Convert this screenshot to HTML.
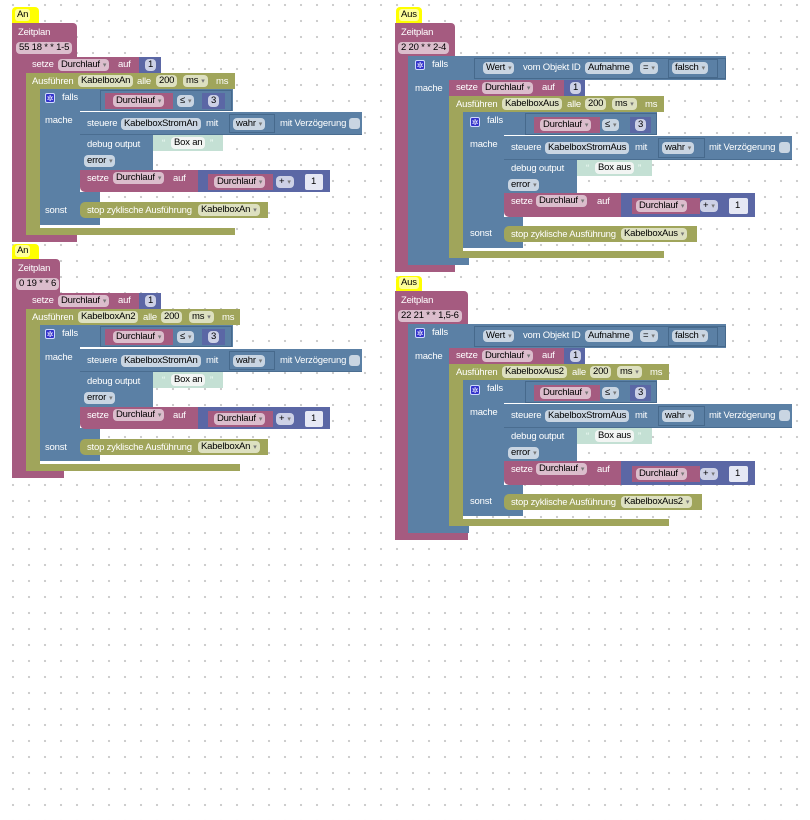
<!DOCTYPE html>
<html><head><meta charset="utf-8"><style>
html,body{margin:0;padding:0}
body{width:810px;height:552px;position:relative;overflow:hidden;background:#fff;
background-image:radial-gradient(circle,#c8c8c8 0.9px,transparent 1.3px);background-size:16px 16px;background-position:5px -3px;
font-family:"Liberation Sans",sans-serif;font-size:9.5px;letter-spacing:-0.2px}
.g0{position:absolute;left:0;top:0;width:810px;height:552px}
.r{position:absolute;box-sizing:border-box}
.P{background:#a55b80}.G{background:#a0a55b}.B{background:#5b80a5}.V{background:#5b67a5}.T{background:#c4e0d4}
.t{position:absolute;color:#fff;white-space:nowrap;line-height:13px}
.c{position:absolute;height:12px;line-height:12px;border-radius:4px;color:#000;padding:0 3px;white-space:nowrap}
.cp{background:#dbbdcc}.cg{background:#dde0c0}.cb{background:#c9d5e2}.cv{background:#cdd1e6}.cw{background:#f2f5f3}
.c i{font-style:normal;font-size:7px;color:#777;margin-left:3px}
.y{position:absolute;background:#ffff00;border-radius:4px 4px 0 0}
.yc{position:absolute;background:#ffff99;color:#000;height:12px;line-height:12px;padding:0 2px;border-radius:3px}
.gear{position:absolute;width:10px;height:10px;background:#33c;border:1px solid #cfd8ff;border-radius:2px;color:#fff;font-size:8px;line-height:10px;text-align:center;box-sizing:border-box}
.ol{border:1px solid #46698c}
.cbx{position:absolute;width:11px;height:11px;background:#c9d5e2;border-radius:3px}
</style></head><body>

<!-- Block A (An) -->
<div class="g0">
<div class="y" style="left:12px;top:7px;width:27px;height:16px"></div><span class="yc" style="left:15px;top:9px">An</span>
<div class="r P" style="left:12px;top:23px;width:65px;height:34px;border-radius:0 4px 0 0"></div>
<span class="t" style="left:18px;top:26px">Zeitplan</span>
<span class="c cp" style="left:16px;top:42px">55 18 * * 1-5</span>
<div class="r P" style="left:12px;top:57px;width:14px;height:185px"></div>
<div class="r P" style="left:12px;top:235px;width:65px;height:7px"></div>
<div class="r P" style="left:26px;top:57px;width:117px;height:16px"></div>
<span class="t" style="left:32px;top:58px">setze</span><span class="c cp" style="left:58px;top:59px">Durchlauf<i>▾</i></span><span class="t" style="left:118px;top:58px">auf</span>
<div class="r V" style="left:139px;top:57px;width:22px;height:16px"></div><span class="c cv" style="left:145px;top:59px">1</span>
<div class="r G" style="left:26px;top:73px;width:209px;height:16px"></div>
<span class="t" style="left:32px;top:75px">Ausführen</span><span class="c cg" style="left:78px;top:75px">KabelboxAn</span><span class="t" style="left:137px;top:75px">alle</span><span class="c cg" style="left:156px;top:75px">200</span><span class="c cg" style="left:183px;top:75px">ms<i>▾</i></span><span class="t" style="left:216px;top:75px">ms</span>
<div class="r G" style="left:26px;top:89px;width:14px;height:146px"></div>
<div class="r G" style="left:26px;top:228px;width:209px;height:7px"></div>
<div class="r B" style="left:40px;top:89px;width:193px;height:22px"></div>
<div class="gear" style="left:45px;top:93px">✲</div><span class="t" style="left:62px;top:91px">falls</span>
<div class="r ol B" style="left:100px;top:90px;width:132px;height:21px"></div>
<div class="r P" style="left:105px;top:93px;width:68px;height:16px"></div><span class="c cp" style="left:113px;top:95px">Durchlauf<i>▾</i></span>
<span class="c cb" style="left:177px;top:95px">≤<i>▾</i></span>
<div class="r V" style="left:202px;top:93px;width:23px;height:16px"></div><span class="c cv" style="left:208px;top:95px">3</span>
<div class="r B" style="left:40px;top:111px;width:40px;height:114px"></div>
<div class="r B" style="left:40px;top:192px;width:60px;height:33px"></div>
<span class="t" style="left:45px;top:114px">mache</span><span class="t" style="left:45px;top:204px">sonst</span>
<div class="r B" style="left:80px;top:112px;width:282px;height:23px;border-bottom:1px solid #4a6d90"></div>
<span class="t" style="left:87px;top:117px">steuere</span><span class="c cb" style="left:121px;top:118px">KabelboxStromAn</span><span class="t" style="left:206px;top:117px">mit</span>
<div class="r ol" style="left:229px;top:114px;width:46px;height:19px"></div><span class="c cb" style="left:233px;top:118px">wahr<i>▾</i></span>
<span class="t" style="left:280px;top:117px">mit Verzögerung</span><div class="cbx" style="left:349px;top:118px"></div>
<div class="r B" style="left:80px;top:135px;width:73px;height:36px"></div>
<span class="t" style="left:87px;top:138px">debug output</span><span class="c cb" style="left:84px;top:155px">error<i>▾</i></span>
<div class="r T" style="left:153px;top:135px;width:70px;height:16px"></div>
<span class="t" style="left:162px;top:137px;color:#f4fff8">“</span><span class="c cw" style="left:171px;top:137px">Box an</span><span class="t" style="left:210px;top:137px;color:#f4fff8">”</span>
<div class="r P" style="left:80px;top:170px;width:118px;height:22px;border-radius:0 0 0 5px"></div>
<span class="t" style="left:87px;top:172px">setze</span><span class="c cp" style="left:113px;top:172px">Durchlauf<i>▾</i></span><span class="t" style="left:173px;top:172px">auf</span>
<div class="r V" style="left:198px;top:170px;width:132px;height:22px"></div>
<div class="r P" style="left:208px;top:174px;width:65px;height:16px"></div><span class="c cp" style="left:214px;top:176px">Durchlauf<i>▾</i></span>
<span class="c cv" style="left:276px;top:176px">+<i>▾</i></span>
<div class="r" style="left:305px;top:174px;width:18px;height:16px;background:#e6e8f4;border-radius:2px"></div><span class="t" style="left:311px;top:175px;color:#000">1</span>
<div class="r G" style="left:80px;top:202px;width:188px;height:16px;border-radius:5px 0 0 5px"></div>
<span class="t" style="left:87px;top:204px">stop zyklische Ausführung</span><span class="c cg" style="left:198px;top:204px">KabelboxAn<i>▾</i></span>
</div>

<!-- Block B (An) -->
<div class="g0" style="top:236px">
<div class="y" style="left:12px;top:8px;width:27px;height:15px"></div><span class="yc" style="left:15px;top:9px">An</span>
<div class="r P" style="left:12px;top:23px;width:48px;height:34px;border-radius:0 4px 0 0"></div>
<span class="t" style="left:18px;top:26px">Zeitplan</span>
<span class="c cp" style="left:16px;top:42px">0 19 * * 6</span>
<div class="r P" style="left:12px;top:57px;width:14px;height:185px"></div>
<div class="r P" style="left:12px;top:235px;width:52px;height:7px"></div>
<div class="r P" style="left:26px;top:57px;width:117px;height:16px"></div>
<span class="t" style="left:32px;top:58px">setze</span><span class="c cp" style="left:58px;top:59px">Durchlauf<i>▾</i></span><span class="t" style="left:118px;top:58px">auf</span>
<div class="r V" style="left:139px;top:57px;width:22px;height:16px"></div><span class="c cv" style="left:145px;top:59px">1</span>
<div class="r G" style="left:26px;top:73px;width:214px;height:16px"></div>
<span class="t" style="left:32px;top:75px">Ausführen</span><span class="c cg" style="left:78px;top:75px">KabelboxAn2</span><span class="t" style="left:143px;top:75px">alle</span><span class="c cg" style="left:161px;top:75px">200</span><span class="c cg" style="left:189px;top:75px">ms<i>▾</i></span><span class="t" style="left:222px;top:75px">ms</span>
<div class="r G" style="left:26px;top:89px;width:14px;height:146px"></div>
<div class="r G" style="left:26px;top:228px;width:214px;height:7px"></div>
<div class="r B" style="left:40px;top:89px;width:193px;height:22px"></div>
<div class="gear" style="left:45px;top:93px">✲</div><span class="t" style="left:62px;top:91px">falls</span>
<div class="r ol B" style="left:100px;top:90px;width:132px;height:21px"></div>
<div class="r P" style="left:105px;top:93px;width:68px;height:16px"></div><span class="c cp" style="left:113px;top:95px">Durchlauf<i>▾</i></span>
<span class="c cb" style="left:177px;top:95px">≤<i>▾</i></span>
<div class="r V" style="left:202px;top:93px;width:23px;height:16px"></div><span class="c cv" style="left:208px;top:95px">3</span>
<div class="r B" style="left:40px;top:111px;width:40px;height:114px"></div>
<div class="r B" style="left:40px;top:192px;width:60px;height:33px"></div>
<span class="t" style="left:45px;top:115px">mache</span><span class="t" style="left:45px;top:205px">sonst</span>
<div class="r B" style="left:80px;top:113px;width:282px;height:23px;border-bottom:1px solid #4a6d90"></div>
<span class="t" style="left:87px;top:118px">steuere</span><span class="c cb" style="left:121px;top:119px">KabelboxStromAn</span><span class="t" style="left:206px;top:118px">mit</span>
<div class="r ol" style="left:229px;top:115px;width:46px;height:19px"></div><span class="c cb" style="left:233px;top:119px">wahr<i>▾</i></span>
<span class="t" style="left:280px;top:118px">mit Verzögerung</span><div class="cbx" style="left:349px;top:119px"></div>
<div class="r B" style="left:80px;top:136px;width:73px;height:35px"></div>
<span class="t" style="left:87px;top:139px">debug output</span><span class="c cb" style="left:84px;top:156px">error<i>▾</i></span>
<div class="r T" style="left:153px;top:136px;width:70px;height:16px"></div>
<span class="t" style="left:162px;top:138px;color:#f4fff8">“</span><span class="c cw" style="left:171px;top:138px">Box an</span><span class="t" style="left:210px;top:138px;color:#f4fff8">”</span>
<div class="r P" style="left:80px;top:171px;width:118px;height:22px;border-radius:0 0 0 5px"></div>
<span class="t" style="left:87px;top:173px">setze</span><span class="c cp" style="left:113px;top:173px">Durchlauf<i>▾</i></span><span class="t" style="left:173px;top:173px">auf</span>
<div class="r V" style="left:198px;top:171px;width:132px;height:22px"></div>
<div class="r P" style="left:208px;top:175px;width:65px;height:16px"></div><span class="c cp" style="left:214px;top:177px">Durchlauf<i>▾</i></span>
<span class="c cv" style="left:276px;top:177px">+<i>▾</i></span>
<div class="r" style="left:305px;top:175px;width:18px;height:16px;background:#e6e8f4;border-radius:2px"></div><span class="t" style="left:311px;top:176px;color:#000">1</span>
<div class="r G" style="left:80px;top:203px;width:188px;height:16px;border-radius:5px 0 0 5px"></div>
<span class="t" style="left:87px;top:205px">stop zyklische Ausführung</span><span class="c cg" style="left:198px;top:205px">KabelboxAn<i>▾</i></span>
</div>

<!-- Block C (Aus) -->
<div class="g0">
<div class="y" style="left:396px;top:7px;width:26px;height:16px"></div><span class="yc" style="left:399px;top:9px">Aus</span>
<div class="r P" style="left:395px;top:23px;width:60px;height:34px;border-radius:0 4px 0 0"></div>
<span class="t" style="left:401px;top:26px">Zeitplan</span>
<span class="c cp" style="left:398px;top:42px">2 20 * * 2-4</span>
<div class="r P" style="left:395px;top:56px;width:14px;height:216px"></div>
<div class="r P" style="left:395px;top:265px;width:60px;height:7px"></div>
<div class="r B" style="left:408px;top:56px;width:318px;height:24px"></div>
<div class="gear" style="left:415px;top:60px">✲</div><span class="t" style="left:432px;top:58px">falls</span>
<div class="r ol B" style="left:474px;top:58px;width:252px;height:21px"></div>
<span class="c cb" style="left:483px;top:62px">Wert<i>▾</i></span><span class="t" style="left:523px;top:61px">vom Objekt ID</span><span class="c cb" style="left:585px;top:62px">Aufnahme</span>
<span class="c cb" style="left:640px;top:62px">=<i>▾</i></span>
<div class="r ol" style="left:668px;top:59px;width:50px;height:19px"></div><span class="c cb" style="left:672px;top:62px">falsch<i>▾</i></span>
<div class="r B" style="left:408px;top:80px;width:41px;height:185px"></div>
<div class="r B" style="left:408px;top:255px;width:61px;height:10px"></div>
<span class="t" style="left:415px;top:82px">mache</span>
<div class="r P" style="left:449px;top:80px;width:117px;height:16px"></div>
<span class="t" style="left:456px;top:81px">setze</span><span class="c cp" style="left:482px;top:82px">Durchlauf<i>▾</i></span><span class="t" style="left:542px;top:81px">auf</span>
<div class="r V" style="left:564px;top:80px;width:21px;height:16px"></div><span class="c cv" style="left:570px;top:82px">1</span>
<div class="r G" style="left:449px;top:96px;width:215px;height:16px"></div>
<span class="t" style="left:456px;top:98px">Ausführen</span><span class="c cg" style="left:502px;top:98px">KabelboxAus</span><span class="t" style="left:567px;top:98px">alle</span><span class="c cg" style="left:585px;top:98px">200</span><span class="c cg" style="left:612px;top:98px">ms<i>▾</i></span><span class="t" style="left:645px;top:98px">ms</span>
<div class="r G" style="left:449px;top:112px;width:14px;height:146px"></div>
<div class="r G" style="left:449px;top:251px;width:215px;height:7px"></div>
<div class="r B" style="left:463px;top:112px;width:194px;height:23px"></div>
<div class="gear" style="left:470px;top:117px">✲</div><span class="t" style="left:487px;top:114px">falls</span>
<div class="r ol B" style="left:525px;top:113px;width:132px;height:22px"></div>
<div class="r P" style="left:534px;top:117px;width:66px;height:16px"></div><span class="c cp" style="left:540px;top:119px">Durchlauf<i>▾</i></span>
<span class="c cb" style="left:602px;top:119px">≤<i>▾</i></span>
<div class="r V" style="left:630px;top:117px;width:21px;height:16px"></div><span class="c cv" style="left:635px;top:119px">3</span>
<div class="r B" style="left:463px;top:135px;width:41px;height:113px"></div>
<div class="r B" style="left:463px;top:217px;width:60px;height:31px"></div>
<span class="t" style="left:470px;top:138px">mache</span><span class="t" style="left:470px;top:227px">sonst</span>
<div class="r B" style="left:504px;top:136px;width:288px;height:24px;border-bottom:1px solid #4a6d90"></div>
<span class="t" style="left:511px;top:141px">steuere</span><span class="c cb" style="left:545px;top:142px">KabelboxStromAus</span><span class="t" style="left:635px;top:141px">mit</span>
<div class="r ol" style="left:658px;top:138px;width:47px;height:20px"></div><span class="c cb" style="left:662px;top:142px">wahr<i>▾</i></span>
<span class="t" style="left:709px;top:141px">mit Verzögerung</span><div class="cbx" style="left:779px;top:142px"></div>
<div class="r B" style="left:504px;top:160px;width:73px;height:34px"></div>
<span class="t" style="left:511px;top:162px">debug output</span><span class="c cb" style="left:508px;top:179px">error<i>▾</i></span>
<div class="r T" style="left:577px;top:160px;width:75px;height:16px"></div>
<span class="t" style="left:586px;top:162px;color:#f4fff8">“</span><span class="c cw" style="left:595px;top:162px">Box aus</span><span class="t" style="left:638px;top:162px;color:#f4fff8">”</span>
<div class="r P" style="left:504px;top:193px;width:117px;height:24px;border-radius:0 0 0 5px"></div>
<span class="t" style="left:511px;top:195px">setze</span><span class="c cp" style="left:536px;top:195px">Durchlauf<i>▾</i></span><span class="t" style="left:597px;top:195px">auf</span>
<div class="r V" style="left:621px;top:193px;width:134px;height:24px"></div>
<div class="r P" style="left:632px;top:198px;width:68px;height:16px"></div><span class="c cp" style="left:636px;top:200px">Durchlauf<i>▾</i></span>
<span class="c cv" style="left:700px;top:200px">+<i>▾</i></span>
<div class="r" style="left:729px;top:198px;width:19px;height:16px;background:#e6e8f4;border-radius:2px"></div><span class="t" style="left:735px;top:199px;color:#000">1</span>
<div class="r G" style="left:504px;top:226px;width:193px;height:16px;border-radius:5px 0 0 5px"></div>
<span class="t" style="left:511px;top:228px">stop zyklische Ausführung</span><span class="c cg" style="left:621px;top:228px">KabelboxAus<i>▾</i></span>
</div>

<!-- Block D (Aus) -->
<div class="g0" style="top:268px">
<div class="y" style="left:396px;top:8px;width:26px;height:15px"></div><span class="yc" style="left:399px;top:9px">Aus</span>
<div class="r P" style="left:395px;top:23px;width:73px;height:34px;border-radius:0 4px 0 0"></div>
<span class="t" style="left:401px;top:26px">Zeitplan</span>
<span class="c cp" style="left:398px;top:42px">22 21 * * 1,5-6</span>
<div class="r P" style="left:395px;top:56px;width:14px;height:216px"></div>
<div class="r P" style="left:395px;top:265px;width:73px;height:7px"></div>
<div class="r B" style="left:408px;top:56px;width:318px;height:24px"></div>
<div class="gear" style="left:415px;top:60px">✲</div><span class="t" style="left:432px;top:58px">falls</span>
<div class="r ol B" style="left:474px;top:58px;width:252px;height:21px"></div>
<span class="c cb" style="left:483px;top:62px">Wert<i>▾</i></span><span class="t" style="left:523px;top:61px">vom Objekt ID</span><span class="c cb" style="left:585px;top:62px">Aufnahme</span>
<span class="c cb" style="left:640px;top:62px">=<i>▾</i></span>
<div class="r ol" style="left:668px;top:59px;width:50px;height:19px"></div><span class="c cb" style="left:672px;top:62px">falsch<i>▾</i></span>
<div class="r B" style="left:408px;top:80px;width:41px;height:185px"></div>
<div class="r B" style="left:408px;top:255px;width:61px;height:10px"></div>
<span class="t" style="left:415px;top:82px">mache</span>
<div class="r P" style="left:449px;top:80px;width:117px;height:16px"></div>
<span class="t" style="left:456px;top:81px">setze</span><span class="c cp" style="left:482px;top:82px">Durchlauf<i>▾</i></span><span class="t" style="left:542px;top:81px">auf</span>
<div class="r V" style="left:564px;top:80px;width:21px;height:16px"></div><span class="c cv" style="left:570px;top:82px">1</span>
<div class="r G" style="left:449px;top:96px;width:220px;height:16px"></div>
<span class="t" style="left:456px;top:98px">Ausführen</span><span class="c cg" style="left:502px;top:98px">KabelboxAus2</span><span class="t" style="left:572px;top:98px">alle</span><span class="c cg" style="left:590px;top:98px">200</span><span class="c cg" style="left:617px;top:98px">ms<i>▾</i></span><span class="t" style="left:650px;top:98px">ms</span>
<div class="r G" style="left:449px;top:112px;width:14px;height:146px"></div>
<div class="r G" style="left:449px;top:251px;width:220px;height:7px"></div>
<div class="r B" style="left:463px;top:112px;width:194px;height:23px"></div>
<div class="gear" style="left:470px;top:117px">✲</div><span class="t" style="left:487px;top:114px">falls</span>
<div class="r ol B" style="left:525px;top:113px;width:132px;height:22px"></div>
<div class="r P" style="left:534px;top:117px;width:66px;height:16px"></div><span class="c cp" style="left:540px;top:119px">Durchlauf<i>▾</i></span>
<span class="c cb" style="left:602px;top:119px">≤<i>▾</i></span>
<div class="r V" style="left:630px;top:117px;width:21px;height:16px"></div><span class="c cv" style="left:635px;top:119px">3</span>
<div class="r B" style="left:463px;top:135px;width:41px;height:113px"></div>
<div class="r B" style="left:463px;top:217px;width:60px;height:31px"></div>
<span class="t" style="left:470px;top:138px">mache</span><span class="t" style="left:470px;top:227px">sonst</span>
<div class="r B" style="left:504px;top:136px;width:288px;height:24px;border-bottom:1px solid #4a6d90"></div>
<span class="t" style="left:511px;top:141px">steuere</span><span class="c cb" style="left:545px;top:142px">KabelboxStromAus</span><span class="t" style="left:635px;top:141px">mit</span>
<div class="r ol" style="left:658px;top:138px;width:47px;height:20px"></div><span class="c cb" style="left:662px;top:142px">wahr<i>▾</i></span>
<span class="t" style="left:709px;top:141px">mit Verzögerung</span><div class="cbx" style="left:779px;top:142px"></div>
<div class="r B" style="left:504px;top:160px;width:73px;height:34px"></div>
<span class="t" style="left:511px;top:162px">debug output</span><span class="c cb" style="left:508px;top:179px">error<i>▾</i></span>
<div class="r T" style="left:577px;top:160px;width:75px;height:16px"></div>
<span class="t" style="left:586px;top:162px;color:#f4fff8">“</span><span class="c cw" style="left:595px;top:162px">Box aus</span><span class="t" style="left:638px;top:162px;color:#f4fff8">”</span>
<div class="r P" style="left:504px;top:193px;width:117px;height:24px;border-radius:0 0 0 5px"></div>
<span class="t" style="left:511px;top:195px">setze</span><span class="c cp" style="left:536px;top:195px">Durchlauf<i>▾</i></span><span class="t" style="left:597px;top:195px">auf</span>
<div class="r V" style="left:621px;top:193px;width:134px;height:24px"></div>
<div class="r P" style="left:632px;top:198px;width:68px;height:16px"></div><span class="c cp" style="left:636px;top:200px">Durchlauf<i>▾</i></span>
<span class="c cv" style="left:700px;top:200px">+<i>▾</i></span>
<div class="r" style="left:729px;top:198px;width:19px;height:16px;background:#e6e8f4;border-radius:2px"></div><span class="t" style="left:735px;top:199px;color:#000">1</span>
<div class="r G" style="left:504px;top:226px;width:198px;height:16px;border-radius:5px 0 0 5px"></div>
<span class="t" style="left:511px;top:228px">stop zyklische Ausführung</span><span class="c cg" style="left:621px;top:228px">KabelboxAus2<i>▾</i></span>
</div>

</body></html>
